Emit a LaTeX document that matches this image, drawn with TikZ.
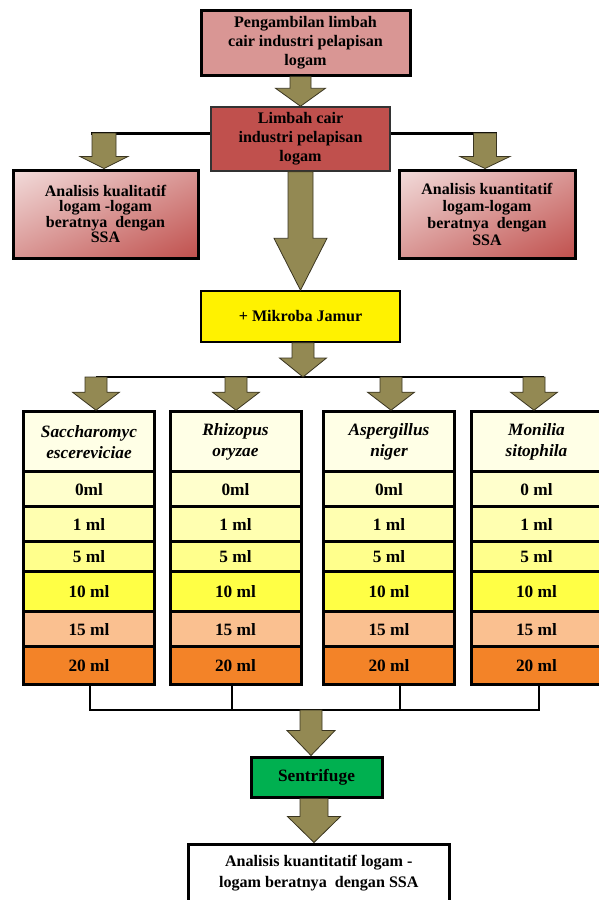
\documentclass[tikz,border=0pt]{standalone}
\usepackage{fontspec}
\setmainfont{Liberation Serif}
\usetikzlibrary{calc,shadings}
\definecolor{toppink}{HTML}{D99694}
\definecolor{redbox}{HTML}{C0504D}
\definecolor{lightpink}{HTML}{F2DCDB}
\definecolor{midpink}{HTML}{D99694}
\definecolor{arrowc}{HTML}{938953}
\definecolor{arrowd}{HTML}{3A3520}
\definecolor{chead}{HTML}{FFFFE6}
\definecolor{cz}{HTML}{FFFFCC}
\definecolor{co}{HTML}{FFFFB0}
\definecolor{cf}{HTML}{FFFF8C}
\definecolor{ct}{HTML}{FFFF45}
\definecolor{cft}{HTML}{FAC090}
\definecolor{ctw}{HTML}{F38328}
\definecolor{sgreen}{HTML}{00B050}
\tikzset{
  box/.style={draw=black, line width=3pt, align=center, inner sep=0pt,
    font=\bfseries\fontsize{16.1}{19}\selectfont},
  cell/.style={draw=black, line width=3pt, minimum width=131pt, align=center, inner sep=0pt,
    font=\bfseries\fontsize{17.3}{21}\selectfont},
  headcell/.style={cell, font=\bfseries\itshape\fontsize{17.3}{21}\selectfont},
  blockarr/.style={fill=arrowc, draw=arrowd, line width=0.8pt, line join=miter},
  conn/.style={draw=black, line width=3pt},
  connthin/.style={draw=black, line width=2pt},
}
\newcommand{\blockarrow}[5]{%
  \path[blockarr] let \p1=#1, \p2=#2 in
    (\x2-#3,\y1) -- (\x2+#3,\y1) -- (\x2+#3,\y2+#5) -- (\x2+#4,\y2+#5) --
    (\x2,\y2) -- (\x2-#4,\y2+#5) -- (\x2-#3,\y2+#5) -- cycle;}
\begin{document}
\begin{tikzpicture}[x=1pt,y=-1pt]
\useasboundingbox[fill=white] (0,0) rectangle (599,900);

% top boxes
\node[box, fill=toppink, minimum width=209pt, minimum height=65pt] (top) at (305.5,42.5)
  {Pengambilan limbah\\cair industri pelapisan\\logam};
\node[box, fill=redbox, draw=black!80, line width=1.5pt, minimum width=179pt, minimum height=64pt] (limbah) at (300.5,139)
  {Limbah cair\\industri pelapisan\\logam};

% side connector line
\coordinate (lt) at (91,133);
\coordinate (rt) at (497,133);
\draw[conn] (lt) -- (lt -| limbah.west);
\draw[conn] (rt -| limbah.east) -- (rt);
\coordinate (la) at (104,133);
\coordinate (ra) at (485,133);

\node[box, minimum width=185pt, minimum height=88pt,
  upper left=lightpink, lower right=redbox, upper right=midpink, lower left=midpink,
  font=\bfseries\fontsize{16}{15.5}\selectfont] (kual) at (105.5,214)
  {Analisis kualitatif\\logam -logam\\beratnya~ dengan\\SSA};
\node[box, minimum width=176pt, minimum height=88pt,
  upper left=lightpink, lower right=redbox, upper right=midpink, lower left=midpink,
  font=\bfseries\fontsize{16}{17}\selectfont] (kuan) at (487,214)
  {Analisis kuantitatif\\logam-logam\\beratnya~ dengan\\SSA};

\node[box, fill=yellow, line width=1.5pt, minimum width=199pt, minimum height=51pt] (mikro) at (300.5,316.5)
  {+ Mikroba Jamur};

% arrows at top
\blockarrow{(top.south)}{(limbah.north)}{10.5pt}{25pt}{18pt}
\blockarrow{(la)}{(la |- kual.north)}{12pt}{24pt}{12pt}
\blockarrow{(ra)}{(ra |- kuan.north)}{11.5pt}{25pt}{12pt}
\blockarrow{(limbah.south)}{(mikro.north)}{12.5pt}{26.5pt}{52pt}

% distribution line
\coordinate (k1) at (96,377);
\coordinate (k2) at (236,377);
\coordinate (k3) at (391,377);
\coordinate (k4) at (534,377);
\coordinate (kend) at (544,377);
\coordinate (km) at (303,377);
\draw[connthin] (k1) -- (kend);
\blockarrow{(mikro.south)}{(km)}{11pt}{23.5pt}{19pt}

% columns
\foreach \i/\cx/\ha/\hb/\zero in {1/89/Saccharomyc/escereviciae/0ml,
    2/235.5/Rhizopus/oryzae/0ml, 3/389/Aspergillus/niger/0ml, 4/536.5/Monilia/sitophila/0 ml}{
  \node[headcell, fill=chead, minimum height=60pt] (h\i) at (\cx,441.7) {\ha\\\hb};
  \node[cell, fill=cz, minimum height=35pt] (a\i) at (\cx,489.2) {\zero};
  \node[cell, fill=co, minimum height=35pt] (b\i) at (\cx,524.2) {1 ml};
  \node[cell, fill=cf, minimum height=30pt] (c\i) at (\cx,556.7) {5 ml};
  \node[cell, fill=ct, minimum height=40pt] (d\i) at (\cx,591.7) {10 ml};
  \node[cell, fill=cft, minimum height=35pt] (e\i) at (\cx,629.2) {15 ml};
  \node[cell, fill=ctw, minimum height=37.3pt] (f\i) at (\cx,665.35) {20 ml};
}
\foreach \i in {1,2,3,4}{
  \blockarrow{(k\i)}{(k\i |- h\i.north)}{11pt}{23.5pt}{18pt}
}

% collecting lines
\coordinate (j1) at (90,710);
\coordinate (j2) at (232,710);
\coordinate (j3) at (399.5,710);
\coordinate (j4) at (539,710);
\foreach \i in {1,2,3,4}{
  \draw[connthin] (j\i |- f\i.south) -- (j\i);
}
\draw[connthin, line cap=rect] (j1) -- (j4);

\node[box, fill=sgreen, minimum width=131pt, minimum height=40pt,
  font=\bfseries\fontsize{17.3}{21}\selectfont] (sent) at (316.5,777) {Sentrifuge};
\node[box, fill=white, minimum width=261.6pt, minimum height=58pt,
  font=\bfseries\fontsize{16.1}{21}\selectfont] (final) at (318.8,873)
  {Analisis kuantitatif logam -\\logam beratnya~ dengan SSA};

\coordinate (s1) at (311,710);
\blockarrow{(s1)}{(s1 |- sent.north)}{11pt}{24pt}{25pt}
\coordinate (s2) at (314,797);
\blockarrow{(s2 |- sent.south)}{(s2 |- final.north)}{14pt}{26.5pt}{26pt}
\end{tikzpicture}
\end{document}
